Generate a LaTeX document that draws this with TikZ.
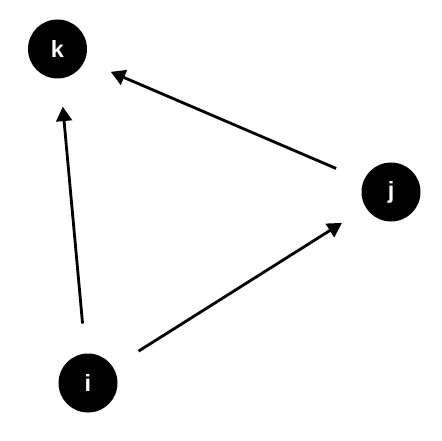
\documentclass[tikz,border=0pt]{standalone}
\usepackage{fontspec}
\setmainfont{Liberation Sans}
\usetikzlibrary{arrows}

\begin{document}
\begin{tikzpicture} [
    v/.style = {circle, fill=black, text=white, minimum size=1.77cm,
    inner sep=0pt, font=\fontsize{20}{22}\selectfont\bfseries},
    arrow/.style = {draw, -triangle 60, line width=2.4pt,
    shorten >=0.85cm, shorten <=0.9cm}
    ]
    \useasboundingbox (0,0) rectangle (13.23,-13.23);
    \node[v](k) at (1.725,-1.47) {k};
    \node[v](j) at (11.73,-5.76) {j};
    \node[v](i) at (2.64,-11.49) {i};

    \draw[arrow] (i) -- (k);
    \draw[arrow] (i) -- (j);
    \draw[arrow] (j) -- (k);

\end{tikzpicture}
\end{document}
